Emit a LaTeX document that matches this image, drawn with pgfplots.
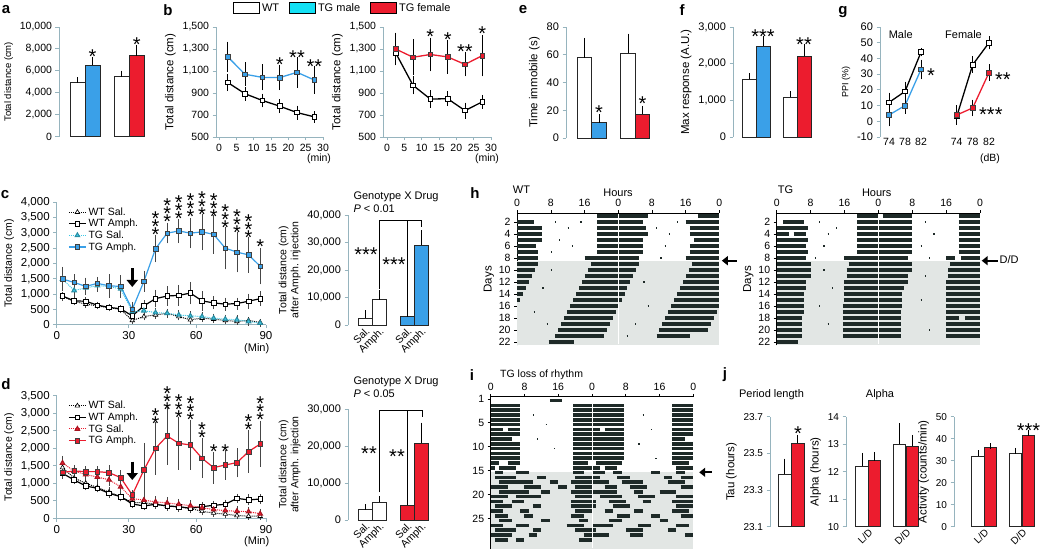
\documentclass[border=0pt]{standalone}
\usepackage{fontspec}
\setmainfont{Liberation Sans}
\usepackage{pgfplots}
\usepackage{pgfplotstable}
\pgfplotsset{compat=1.18}
\usetikzlibrary{arrows.meta}
\definecolor{axc}{RGB}{150,180,190}
\definecolor{tgblue}{RGB}{58,160,232}
\definecolor{tgred}{RGB}{236,28,46}
\definecolor{tgcyan}{RGB}{20,225,245}
\definecolor{tgsal}{RGB}{60,200,230}
\definecolor{actc}{RGB}{30,42,40}
\definecolor{shade}{RGB}{226,230,228}
\definecolor{errc}{RGB}{70,70,70}

\tikzset{starn/.style={font=\fontsize{20}{20}\selectfont, inner sep=0pt, yshift=-4.5pt}}
\pgfplotsset{
  every axis/.append style={
    scale only axis, clip=false,
    /pgf/number format/assume math mode=true,
    /pgf/number format/1000 sep={,},
    scaled ticks=false,
    tick label style={font=\fontsize{11}{13}\selectfont},
    label style={font=\fontsize{11.5}{13}\selectfont},
  },
  yleft/.style={axis y line*=left, y axis line style={axc, line width=0.9pt},
    ytick style={axc, line width=0.9pt}, ytick align=outside, major tick length=3.5pt},
  barax/.style={yleft, axis x line=none},
  barax2/.style={yleft, axis x line*=bottom, x axis line style={draw=none}, xtick style={draw=none}},
  lineax/.style={axis x line*=bottom, axis y line*=left, axis line style={axc, line width=0.9pt},
    tick style={axc, line width=0.9pt}, tick align=outside, major tick length=3.5pt},
  bb/.style={ybar, bar width=#1, bar shift=0pt, draw=black!85, line width=0.9pt,
    error bars/y dir=plus, error bars/y explicit,
    error bars/error bar style={black, line width=0.8pt},
    error bars/error mark options={black, line width=0.8pt, mark size=3pt}},
  errs/.style={error bars/y dir=both, error bars/y explicit,
    error bars/error bar style={#1, line width=0.7pt, solid},
    error bars/error mark options={#1, mark size=2pt, line width=0.7pt, solid}},
  wtl/.style={black, line width=1.3pt, mark=square*, mark size=2.3pt,
    mark options={fill=white, draw=black, line width=0.8pt, solid}, errs=black},
  tgl/.style={#1, line width=1.3pt, mark=square*, mark size=2.3pt,
    mark options={fill=#1, draw=black!75, line width=0.6pt, solid}, errs=black},
  act/.style={color=actc, line width=#1, line cap=butt, mark=none},
  acto/.style={xmin=0, xmax=48, ymin=-22.5, ymax=-0.5,
    axis x line*=top, axis y line*=left, axis line style={black, line width=0.8pt},
    tick style={black, line width=0.6pt}, tick align=outside, major tick length=3pt,
    xtick={0,8,16,24,32,40,48}, xticklabels={0,8,16,0,8,16,0},
    ytick={-2,-4,...,-22}, yticklabels={2,4,6,8,10,12,14,16,18,20,22},
    tick label style={font=\fontsize{10.5}{12}\selectfont},
    ylabel={Days}, ylabel style={yshift=-2pt}, unbounded coords=jump},
}
\newcommand{\sA}[2]{\node[starn] at (axis cs:#1,#2) {*};}
\newcommand{\sB}[2]{\node[starn] at (axis cs:#1,#2) {*};\node[starn,yshift=8pt] at (axis cs:#1,#2) {*};}
\newcommand{\sC}[2]{\node[starn] at (axis cs:#1,#2) {*};\node[starn,yshift=8pt] at (axis cs:#1,#2) {*};\node[starn,yshift=16pt] at (axis cs:#1,#2) {*};}

\pgfplotstableread{
t ws wse wa wae ts tse ta tae
2.5 925 70 936 80 1490 150 1490 330
7.5 766 60 777 60 1117 150 1380 200
12.5 670 60 766 60 1202 150 1250 220
17.5 617 50 638 50 1277 130 1350 150
22.5 553 50 564 50 1245 130 1270 320
27.5 500 50 521 60 1170 130 1250 300
32.5 138 50 287 60 426 100 500 180
37.5 266 60 617 120 457 100 1415 280
42.5 319 60 851 220 394 100 2480 380
47.5 372 60 936 250 372 90 2990 270
52.5 266 60 958 280 319 90 3060 330
57.5 160 60 1032 300 287 90 2990 430
62.5 213 60 777 250 266 80 3030 530
67.5 181 60 713 150 213 80 2950 560
72.5 138 60 670 150 181 80 2500 630
77.5 106 50 691 130 160 80 2370 600
82.5 138 50 766 180 106 70 2280 520
87.5 74 50 851 180 53 60 1910 530
}\cdata

\pgfplotstableread{
t ws wse wa wae ts tse ta tae
2.5 1450 100 1285 60 1580 150 1314 130
7.5 1150 100 1095 60 1350 120 1352 100
12.5 1000 90 924 60 1250 120 1333 100
17.5 880 80 857 50 1180 120 1333 100
22.5 750 80 714 80 1100 120 1305 150
27.5 620 80 619 80 900 120 1162 150
32.5 450 80 410 60 560 100 667 80
37.5 450 80 352 60 520 100 1381 714
42.5 400 70 400 80 470 100 2000 700
47.5 350 70 352 80 440 100 2352 770
52.5 320 70 333 80 400 100 2143 700
57.5 280 70 286 80 360 100 2095 650
62.5 200 60 333 80 300 100 1714 510
67.5 150 60 371 80 250 90 1448 400
72.5 120 50 400 80 220 90 1524 360
77.5 80 50 571 80 200 90 1590 360
82.5 60 50 524 100 190 90 1905 550
87.5 60 50 552 80 130 80 2124 600
}\ddata

\begin{document}
\begin{tikzpicture}
\path[use as bounding box] (0pt,0pt) rectangle (1050pt,552pt);

% panel letters
\begin{scope}[every node/.style={font=\bfseries\fontsize{15}{15}\selectfont}]
\node at (6pt,542pt) {a};
\node at (168pt,542pt) {b};
\node at (523pt,542pt) {e};
\node at (682pt,542pt) {f};
\node at (843pt,540pt) {g};
\node at (5pt,357pt) {c};
\node at (6pt,168pt) {d};
\node at (475pt,359pt) {h};
\node at (472pt,177pt) {i};
\node at (725pt,177pt) {j};
\end{scope}

% ---------- a ----------
\begin{axis}[barax, at={(59pt,415.3pt)}, width=91pt, height=109.7pt,
  xmin=0, xmax=91, ymin=0, ymax=10000, ytick={0,2000,...,10000},
  ylabel={Total distance (cm)}, label style={font=\fontsize{9.5}{11}\selectfont},
  tick label style={font=\fontsize{10.5}{12}\selectfont}]
\addplot[bb=15pt, fill=white] coordinates {(18.5,4950) +- (0,180)};
\addplot[bb=15pt, fill=tgblue] coordinates {(33.5,6500) +- (0,500)};
\addplot[bb=15pt, fill=white] coordinates {(62.75,5500) +- (0,250)};
\addplot[bb=15pt, fill=tgred] coordinates {(77.75,7400) +- (0,700)};
\sA{33.5}{7750}
\sA{77.75}{8815}
\end{axis}

% ---------- b left ----------
\begin{axis}[lineax, at={(216pt,415pt)}, width=107pt, height=110pt,
  xmin=-0.9, xmax=30, ymin=500, ymax=1500, xtick={0,5,...,30}, ytick={500,700,...,1500},
  ylabel={Total distance (cm)}, tick label style={font=\fontsize{10.5}{12}\selectfont},
  legend columns=3,
  legend style={draw=none, fill=none, at={(0.13,1.25)}, anchor=north west,
    font=\fontsize{11}{12}\selectfont, /tikz/every even column/.append style={column sep=8pt}}]
\addlegendimage{legend image code/.code={\draw[fill=white, draw=black, line width=0.9pt] (0pt,-5pt) rectangle (26pt,6pt);}}
\addlegendimage{legend image code/.code={\draw[fill=tgcyan, draw=black, line width=0.9pt] (0pt,-5pt) rectangle (26pt,6pt);}}
\addlegendimage{legend image code/.code={\draw[fill=tgred, draw=black, line width=0.9pt] (0pt,-5pt) rectangle (26pt,6pt);}}
\addplot[wtl] coordinates {(2.5,995) +- (0,60) (7.5,893) +- (0,45) (12.5,832) +- (0,45) (17.5,780) +- (0,45) (22.5,722) +- (0,45) (27.5,683) +- (0,35)};
\addplot[tgl=tgblue] coordinates {(2.5,1228) +- (0,120) (7.5,1070) +- (0,90) (12.5,1042) +- (0,100) (17.5,1040) +- (0,95) (22.5,1088) +- (0,120) (27.5,1018) +- (0,105)};
\legend{WT,TG male,TG female}
\sA{17.5}{1200}
\node[starn] at (axis cs:22.5,1263) {**};
\node[starn] at (axis cs:27.5,1185) {**};
\end{axis}
\node[font=\fontsize{10.5}{12}\selectfont] at (319pt,393.7pt) {(min)};

% ---------- b right ----------
\begin{axis}[lineax, at={(383pt,415pt)}, width=108pt, height=110pt,
  xmin=-1.15, xmax=30, ymin=500, ymax=1500, xtick={0,5,...,30}, ytick={500,700,...,1500},
  ylabel={Total distance (cm)}, tick label style={font=\fontsize{10.5}{12}\selectfont}]
\addplot[wtl] coordinates {(2.5,1265) +- (0,90) (7.5,970) +- (0,65) (12.5,845) +- (0,60) (17.5,848) +- (0,50) (22.5,740) +- (0,55) (27.5,820) +- (0,45)};
\addplot[tgl=tgred] coordinates {(2.5,1300) +- (0,130) (7.5,1225) +- (0,145) (12.5,1250) +- (0,135) (17.5,1228) +- (0,135) (22.5,1160) +- (0,90) (27.5,1240) +- (0,170)};
\sA{12.5}{1457}
\sA{17.5}{1427}
\node[starn] at (axis cs:22.5,1321) {**};
\sA{27.5}{1479}
\end{axis}
\node[font=\fontsize{10.5}{12}\selectfont] at (487pt,393.7pt) {(min)};

% ---------- e ----------
\begin{axis}[barax, at={(566pt,414pt)}, width=89pt, height=111pt,
  xmin=0, xmax=89, ymin=0, ymax=80, ytick={0,20,...,80},
  ylabel={Time immobile (s)}]
\addplot[bb=14.5pt, fill=white] coordinates {(18.5,58) +- (0,12)};
\addplot[bb=14.5pt, fill=tgblue] coordinates {(33,11) +- (0,4)};
\addplot[bb=14.5pt, fill=white] coordinates {(62,61) +- (0,12)};
\addplot[bb=14.5pt, fill=tgred] coordinates {(76.5,17) +- (0,4)};
\sA{33}{21.6}
\sA{76.5}{27.9}
\end{axis}

% ---------- f ----------
\begin{axis}[barax, at={(733pt,415pt)}, width=82pt, height=110pt,
  xmin=0, xmax=82, ymin=0, ymax=3000, ytick={0,1000,...,3000},
  ylabel={Max response (A.U.)}]
\addplot[bb=14pt, fill=white] coordinates {(16,1570) +- (0,80)};
\addplot[bb=14pt, fill=tgblue] coordinates {(30,2480) +- (0,180)};
\addplot[bb=14pt, fill=white] coordinates {(57,1090) +- (0,70)};
\addplot[bb=14pt, fill=tgred] coordinates {(71,2200) +- (0,260)};
\node[starn] at (axis cs:30,2872) {***};
\node[starn] at (axis cs:71,2645) {**};
\end{axis}

% ---------- g ----------
\begin{axis}[barax2, at={(880pt,415pt)}, width=120pt, height=110pt,
  xmin=0, xmax=120, ymin=-10, ymax=60, ytick={-10,0,...,60},
  xtick={9,25,41,76.7,92.7,109}, xticklabels={74,78,82,74,78,82},
  xticklabel style={font=\fontsize{10.5}{12}\selectfont, inner sep=1pt},
  ylabel={PPI (\%)}, ylabel style={font=\fontsize{9}{11}\selectfont}]
\addplot[wtl] coordinates {(9,12) +- (0,5) (25,19) +- (0,5) (41,44) +- (0,1.5)};
\addplot[tgl=tgblue] coordinates {(9,4) +- (0,6) (25,10) +- (0,4) (41,33) +- (0,5)};
\addplot[wtl] coordinates {(76.7,3) +- (0,4) (92.7,36) +- (0,4) (109,50) +- (0,3)};
\addplot[tgl=tgred] coordinates {(76.7,4) +- (0,5) (92.7,8.5) +- (0,4) (109,31) +- (0,4)};
\node[starn, anchor=west] at (axis cs:47,32.2) {*};
\node[starn, anchor=west] at (axis cs:115,29.5) {**};
\node[starn, anchor=west] at (axis cs:99,7.2) {***};
\end{axis}
\node[font=\fontsize{11}{13}\selectfont] at (900.7pt,517pt) {Male};
\node[font=\fontsize{11}{13}\selectfont] at (963.5pt,517pt) {Female};
\node[font=\fontsize{10.5}{12}\selectfont] at (990pt,393.7pt) {(dB)};

% ---------- c line ----------
\begin{axis}[lineax, at={(56.7pt,227.3pt)}, width=209.3pt, height=122.5pt,
  xmin=0, xmax=90, ymin=0, ymax=4000, ytick={0,500,...,4000},
  xtick={0,31,60,90}, xticklabels={0,30,60,90},
  tick label style={font=\fontsize{11.5}{13}\selectfont},
  ylabel={Total distance (cm)}, label style={font=\fontsize{10.5}{12}\selectfont},
  legend cell align=left,
  legend style={draw=none, fill=none, at={(0.04,0.99)}, anchor=north west,
    font=\fontsize{10.5}{12}\selectfont, row sep=-1.5pt}]
\addplot[black, densely dotted, line width=1pt, mark=triangle*, mark size=2.6pt,
  mark options={fill=white, draw=black, solid, line width=0.6pt}, errs=errc]
  table[x=t, y=ws, y error=wse] {\cdata};
\addplot[black, line width=1.2pt, mark=square*, mark size=2.3pt,
  mark options={fill=white, draw=black, solid, line width=0.7pt}, errs=errc]
  table[x=t, y=wa, y error=wae] {\cdata};
\addplot[tgsal, densely dotted, line width=1pt, mark=triangle*, mark size=2.6pt,
  mark options={fill=tgsal, draw=tgsal!70!black, solid}, errs=errc]
  table[x=t, y=ts, y error=tse] {\cdata};
\addplot[tgblue, line width=1.2pt, mark=square*, mark size=2.3pt,
  mark options={fill=tgblue, draw=black!75, solid, line width=0.6pt}, errs=errc]
  table[x=t, y=ta, y error=tae] {\cdata};
\legend{WT Sal.,WT Amph.,TG Sal.,TG Amph.}
\draw[line width=2.6pt, -{Triangle[length=7pt, width=11pt]}] (axis cs:32.5,1851) -- (axis cs:32.5,1231);
\sC{42.5}{3092}\sC{47.5}{3507}\sC{52.5}{3614}\sC{57.5}{3690}\sC{62.5}{3745}
\sC{67.5}{3690}\sC{72.5}{3310}\sC{77.5}{3147}\sC{82.5}{2985}\sA{87.5}{2710}
\end{axis}
\node[font=\fontsize{11}{13}\selectfont] at (256.7pt,203.7pt) {(Min)};

% ---------- c bars ----------
\begin{axis}[barax2, at={(348pt,227pt)}, width=85pt, height=110pt,
  xmin=0, xmax=85, ymin=0, ymax=40000, ytick={0,10000,...,40000},
  xtick={17,31,59,73}, xticklabels={Sal.,Amph.,Sal.,Amph.},
  xticklabel style={rotate=45, anchor=north east, inner sep=1pt, font=\fontsize{10.5}{12}\selectfont},
  ylabel={Total distance (cm)\\after Amph. injection},
  ylabel style={align=center, font=\fontsize{10.5}{12}\selectfont}]
\addplot[bb=14pt, fill=white] coordinates {(17,2500) +- (0,1800)};
\addplot[bb=14pt, fill=white] coordinates {(31,9200) +- (0,2500)};
\addplot[bb=14pt, fill=tgblue] coordinates {(59,3000) +- (0,1200)};
\addplot[bb=14pt, fill=tgblue] coordinates {(73,29000) +- (0,4300)};
\addplot[black, line width=0.8pt, mark=none] coordinates {(31,13000) (31,37900) (73,37900) (73,35600)};
\addplot[black, line width=0.8pt, mark=none] coordinates {(59,5500) (59,37900)};
\node[starn] at (axis cs:18,27300) {***};
\node[starn] at (axis cs:46,23600) {***};
\end{axis}
\node[anchor=west, font=\fontsize{11}{13}\selectfont] at (350pt,355pt) {Genotype X Drug};
\node[anchor=west, font=\fontsize{11}{13}\selectfont] at (350pt,343pt) {\textit{P} < 0.01};

% ---------- d line ----------
\begin{axis}[lineax, at={(56.7pt,33.7pt)}, width=209.3pt, height=122.5pt,
  xmin=0, xmax=90, ymin=0, ymax=3500, ytick={0,500,...,3500},
  xtick={0,31,60,90}, xticklabels={0,30,60,90},
  tick label style={font=\fontsize{11.5}{13}\selectfont},
  ylabel={Total distance (cm)}, label style={font=\fontsize{10.5}{12}\selectfont},
  legend cell align=left,
  legend style={draw=none, fill=none, at={(0.04,0.99)}, anchor=north west,
    font=\fontsize{10.5}{12}\selectfont, row sep=-1.5pt}]
\addplot[black, densely dotted, line width=1pt, mark=triangle*, mark size=2.6pt,
  mark options={fill=white, draw=black, solid, line width=0.6pt}, errs=errc]
  table[x=t, y=ws, y error=wse] {\ddata};
\addplot[black, line width=1.2pt, mark=square*, mark size=2.3pt,
  mark options={fill=white, draw=black, solid, line width=0.7pt}, errs=errc]
  table[x=t, y=wa, y error=wae] {\ddata};
\addplot[tgred, densely dotted, line width=1pt, mark=triangle*, mark size=2.6pt,
  mark options={fill=tgred, draw=tgred!70!black, solid}, errs=errc]
  table[x=t, y=ts, y error=tse] {\ddata};
\addplot[tgred, line width=1.2pt, mark=square*, mark size=2.3pt,
  mark options={fill=tgred, draw=black!75, solid, line width=0.6pt}, errs=errc]
  table[x=t, y=ta, y error=tae] {\ddata};
\legend{WT Sal.,WT Amph.,TG Sal.,TG Amph.}
\draw[line width=2.6pt, -{Triangle[length=7pt, width=11pt]}] (axis cs:32.5,1617) -- (axis cs:32.5,1094);
\sB{42.5}{2829}\sC{47.5}{3238}\sC{52.5}{3000}\sC{57.5}{2952}\sB{62.5}{2428}
\sA{67.5}{2048}\sA{72.5}{2048}\sB{82.5}{2667}\sC{87.5}{2952}
\end{axis}
\node[font=\fontsize{11}{13}\selectfont] at (256.7pt,10.1pt) {(Min)};

% ---------- d bars ----------
\begin{axis}[barax2, at={(348pt,32pt)}, width=85pt, height=111pt,
  xmin=0, xmax=85, ymin=0, ymax=30000, ytick={0,10000,...,30000},
  xtick={17,31,59,73}, xticklabels={Sal.,Amph.,Sal.,Amph.},
  xticklabel style={rotate=45, anchor=north east, inner sep=1pt, font=\fontsize{10.5}{12}\selectfont},
  ylabel={Total distance (cm)\\after Amph. injection},
  ylabel style={align=center, font=\fontsize{10.5}{12}\selectfont}]
\addplot[bb=14pt, fill=white] coordinates {(17,2800) +- (0,600)};
\addplot[bb=14pt, fill=white] coordinates {(31,4800) +- (0,900)};
\addplot[bb=14pt, fill=tgred] coordinates {(59,4000) +- (0,1200)};
\addplot[bb=14pt, fill=tgred] coordinates {(73,20700) +- (0,4800)};
\addplot[black, line width=0.8pt, mark=none] coordinates {(31,7500) (31,29500) (74,29500) (74,27800)};
\addplot[black, line width=0.8pt, mark=none] coordinates {(59,6000) (59,29500)};
\node[starn] at (axis cs:21,19200) {**};
\node[starn] at (axis cs:49,18400) {**};
\end{axis}
\node[anchor=west, font=\fontsize{11}{13}\selectfont] at (350pt,170pt) {Genotype X Drug};
\node[anchor=west, font=\fontsize{11}{13}\selectfont] at (350pt,158pt) {\textit{P} < 0.05};

% ---------- h WT actogram ----------
\begin{axis}[acto, at={(517.1pt,206.7pt)}, width=202.2pt, height=132pt]
\addplot[fill=shade, draw=none, mark=none] coordinates {(0,-8.4) (48,-8.4) (48,-22.5) (0,-22.5)};
\addplot[act=4.2pt] coordinates {
(19,-1)(31,-1)(nan,0)(43,-1)(48,-1)(nan,0)
(0,-2)(4,-2)(nan,0)(19,-2)(30,-2)(nan,0)(40,-2)(48,-2)(nan,0)
(0,-3)(6,-3)(nan,0)(19,-3)(30.5,-3)(nan,0)(41,-3)(48,-3)(nan,0)
(0,-4)(6,-4)(nan,0)(19,-4)(31,-4)(nan,0)(41,-4)(48,-4)(nan,0)
(0,-5)(6,-5)(nan,0)(19,-5)(30,-5)(nan,0)(42,-5)(48,-5)(nan,0)
(0,-6)(4.5,-6)(nan,0)(19,-6)(30,-6)(nan,0)(41,-6)(48,-6)(nan,0)
(0,-7)(5,-7)(nan,0)(19,-7)(30,-7)(nan,0)(41,-7)(48,-7)(nan,0)
(0,-8)(5,-8)(nan,0)(16,-8)(29,-8)(nan,0)(40,-8)(48,-8)(nan,0)
(0,-9)(5,-9)(nan,0)(17.5,-9)(29,-9)(nan,0)(41.5,-9)(48,-9)(nan,0)
(0,-10)(4.3,-10)(nan,0)(16.8,-10)(28.3,-10)(nan,0)(40.8,-10)(48,-10)(nan,0)
(0,-11)(3.6,-11)(nan,0)(16.1,-11)(27.6,-11)(nan,0)(40.1,-11)(48,-11)(nan,0)
(0,-12)(2.9,-12)(nan,0)(15.4,-12)(26.9,-12)(nan,0)(39.4,-12)(48,-12)(nan,0)
(0,-13)(2.2,-13)(nan,0)(14.7,-13)(26.2,-13)(nan,0)(38.7,-13)(48,-13)(nan,0)
(0,-14)(1.5,-14)(nan,0)(14,-14)(25.5,-14)(nan,0)(38,-14)(48,-14)(nan,0)
(0,-15)(0.8,-15)(nan,0)(13.3,-15)(24.8,-15)(nan,0)(37.3,-15)(48,-15)(nan,0)
(12.6,-16)(24.1,-16)(nan,0)(36.6,-16)(48,-16)(nan,0)
(11.9,-17)(23.4,-17)(nan,0)(35.9,-17)(47.4,-17)(nan,0)
(11.2,-18)(22.7,-18)(nan,0)(35.2,-18)(46.7,-18)(nan,0)
(10.5,-19)(22,-19)(nan,0)(34.5,-19)(46,-19)(nan,0)
(9.8,-20)(21.3,-20)(nan,0)(33.8,-20)(45.3,-20)(nan,0)
(9.1,-21)(20.6,-21)(nan,0)(33.1,-21)(41,-21)(nan,0)
(7.5,-22)(13.5,-22)
};
\addplot[actc, line width=1.6pt, line cap=butt, mark=none] coordinates {
(9,-2)(9.3,-2)(nan,0)(12,-3)(12.3,-3)(nan,0)(15,-2)(15.3,-2)(nan,0)(10,-5)(10.3,-5)(nan,0)
(13,-6)(13.3,-6)(nan,0)(8,-7)(8.3,-7)(nan,0)(33,-3)(33.3,-3)(nan,0)(36,-4)(36.3,-4)(nan,0)
(38,-2)(38.3,-2)(nan,0)(35,-6)(35.3,-6)(nan,0)(34,-8)(34.3,-8)(nan,0)(8,-10)(8.3,-10)(nan,0)
(6,-13)(6.3,-13)(nan,0)(4,-17)(4.3,-17)(nan,0)(7,-19)(7.3,-19)(nan,0)(30,-12)(30.3,-12)(nan,0)
(31,-16)(31.3,-16)(nan,0)(28,-19)(28.3,-19)(nan,0)(26,-21)(26.3,-21)
};
\addplot[white, line width=0.6pt, mark=none] coordinates {(24,-0.7)(24,-22.3)};
\draw[line width=1.8pt, -{Triangle[length=6pt, width=9pt]}] (axis cs:52.1,-8.4) -- (axis cs:48.6,-8.4);
\end{axis}
\node[font=\fontsize{11}{13}\selectfont] at (521.5pt,362.7pt) {WT};
\node[font=\fontsize{11}{13}\selectfont] at (618pt,359.3pt) {Hours};

% ---------- h TG actogram ----------
\begin{axis}[acto, at={(776.7pt,206.7pt)}, width=203.3pt, height=132pt]
\addplot[fill=shade, draw=none, mark=none] coordinates {(0,-8.4) (48,-8.4) (48,-22.5) (0,-22.5)};
\addplot[act=4.2pt] coordinates {
(19,-1)(24,-1)(nan,0)(25,-1)(32,-1)(nan,0)(43,-1)(48,-1)(nan,0)
(1.5,-2)(6.5,-2)(nan,0)(19,-2)(32,-2)(nan,0)(43,-2)(48,-2)(nan,0)
(0,-3)(7.5,-3)(nan,0)(19,-3)(32,-3)(nan,0)(43,-3)(48,-3)(nan,0)
(0,-4)(3,-4)(nan,0)(4,-4)(7,-4)(nan,0)(19,-4)(32,-4)(nan,0)(43,-4)(48,-4)(nan,0)
(0,-5)(7.5,-5)(nan,0)(19,-5)(32,-5)(nan,0)(43,-5)(48,-5)(nan,0)
(0,-6)(7,-6)(nan,0)(19,-6)(32,-6)(nan,0)(43,-6)(48,-6)(nan,0)
(0,-7)(7.5,-7)(nan,0)(19,-7)(32,-7)(nan,0)(43,-7)(48,-7)(nan,0)
(0,-8)(7,-8)(nan,0)(16,-8)(31,-8)(nan,0)(40,-8)(42,-8)(nan,0)(43.5,-8)(48,-8)(nan,0)
(0,-9)(8,-9)(nan,0)(17,-9)(32,-9)(nan,0)(41,-9)(48,-9)(nan,0)
(0,-10)(8,-10)(nan,0)(16.5,-10)(32,-10)(nan,0)(40.5,-10)(48,-10)(nan,0)
(0,-11)(8,-11)(nan,0)(16.5,-11)(31,-11)(nan,0)(40.5,-11)(48,-11)(nan,0)
(0,-12)(7,-12)(nan,0)(16,-12)(31,-12)(nan,0)(40,-12)(48,-12)(nan,0)
(0,-13)(7,-13)(nan,0)(16,-13)(30,-13)(nan,0)(40,-13)(48,-13)(nan,0)
(0,-14)(6.5,-14)(nan,0)(15.8,-14)(29.5,-14)(nan,0)(40,-14)(48,-14)(nan,0)
(0,-15)(6.5,-15)(nan,0)(15.8,-15)(29.5,-15)(nan,0)(40,-15)(48,-15)(nan,0)
(0,-16)(6.5,-16)(nan,0)(15.6,-16)(29.5,-16)(nan,0)(40,-16)(48,-16)(nan,0)
(0,-17)(6.5,-17)(nan,0)(15.6,-17)(29.3,-17)(nan,0)(40,-17)(48,-17)(nan,0)
(0,-18)(6,-18)(nan,0)(15.6,-18)(29.3,-18)(nan,0)(40,-18)(43,-18)(nan,0)(44.5,-18)(48,-18)(nan,0)
(0,-19)(6,-19)(nan,0)(15.6,-19)(29.3,-19)(nan,0)(40,-19)(48,-19)(nan,0)
(0,-20)(6,-20)(nan,0)(15.6,-20)(29.3,-20)(nan,0)(40,-20)(48,-20)(nan,0)
(0,-21)(6,-21)(nan,0)(15.6,-21)(29.3,-21)(nan,0)(40,-21)(48,-21)(nan,0)
(0,-22)(5,-22)
};
\addplot[actc, line width=1.6pt, line cap=butt, mark=none] coordinates {
(10,-2)(10.3,-2)(nan,0)(12,-4)(12.3,-4)(nan,0)(14,-3)(14.3,-3)(nan,0)(11,-6)(11.3,-6)(nan,0)
(9,-8)(9.3,-8)(nan,0)(35,-2)(35.3,-2)(nan,0)(37,-4)(37.3,-4)(nan,0)(34,-6)(34.3,-6)(nan,0)
(36,-8)(36.3,-8)(nan,0)(11,-10)(11.3,-10)(nan,0)(13,-13)(13.3,-13)(nan,0)(35,-11)(35.3,-11)(nan,0)
(10,-16)(10.3,-16)(nan,0)(12,-19)(12.3,-19)(nan,0)(34,-15)(34.3,-15)(nan,0)(36,-20)(36.3,-20)
};
\addplot[white, line width=0.6pt, mark=none] coordinates {(24,-0.7)(24,-22.3)};
\draw[line width=1.8pt, -{Triangle[length=6pt, width=9pt]}] (axis cs:52.2,-8.4) -- (axis cs:48.4,-8.4);
\end{axis}
\node[font=\fontsize{11}{13}\selectfont] at (785.5pt,362.7pt) {TG};
\node[font=\fontsize{11}{13}\selectfont] at (876.7pt,359.3pt) {Hours};
\node[anchor=west, font=\fontsize{11}{13}\selectfont, inner sep=1pt] at (998.5pt,292.7pt) {D/D};

% ---------- i actogram ----------
\begin{axis}[at={(490.7pt,3pt)}, width=202.6pt, height=152.2pt,
  xmin=0, xmax=48, ymin=-31.3, ymax=0.4,
  axis x line*=top, axis y line*=left, axis line style={black, line width=0.8pt},
  tick style={black, line width=0.6pt}, tick align=outside, major tick length=3pt,
  xtick={0,8,16,24,32,40,48}, xticklabels={0,8,16,0,8,16,0},
  ytick={-0.125,-5,-10,-15,-20,-25}, yticklabels={1,5,10,15,20,25},
  tick label style={font=\fontsize{10.5}{12}\selectfont}, unbounded coords=jump]
\addplot[fill=shade, draw=none, mark=none] coordinates {(0,-15.33) (48,-15.33) (48,-31.3) (0,-31.3)};
\addplot[act=3.6pt] coordinates {
(14,-0.4)(17,-0.4)(nan,0)
(0,-1.4)(7,-1.4)(nan,0)(19.5,-1.4)(31.5,-1.4)(nan,0)(43,-1.4)(48,-1.4)(nan,0)
(0,-2.4)(7,-2.4)(nan,0)(19.5,-2.4)(31.5,-2.4)(nan,0)(43,-2.4)(48,-2.4)(nan,0)
(0,-3.4)(7,-3.4)(nan,0)(19.5,-3.4)(31.5,-3.4)(nan,0)(43,-3.4)(48,-3.4)(nan,0)
(0,-4.4)(7,-4.4)(nan,0)(19.5,-4.4)(31.5,-4.4)(nan,0)(43,-4.4)(48,-4.4)(nan,0)
(0,-5.4)(7,-5.4)(nan,0)(19.5,-5.4)(31.5,-5.4)(nan,0)(43,-5.4)(48,-5.4)(nan,0)
(0,-6.4)(3,-6.4)(nan,0)(4,-6.4)(7,-6.4)(nan,0)(19.5,-6.4)(26,-6.4)(nan,0)(27,-6.4)(31.5,-6.4)(nan,0)(43,-6.4)(48,-6.4)(nan,0)
(0,-7.4)(7,-7.4)(nan,0)(19.5,-7.4)(31.5,-7.4)(nan,0)(43,-7.4)(48,-7.4)(nan,0)
(0,-8.4)(5,-8.4)(nan,0)(19.5,-8.4)(31.5,-8.4)(nan,0)(43,-8.4)(46,-8.4)(nan,0)
(0,-9.4)(7,-9.4)(nan,0)(19.5,-9.4)(31.5,-9.4)(nan,0)(43,-9.4)(48,-9.4)(nan,0)
(0,-10.4)(7,-10.4)(nan,0)(19.5,-10.4)(31.5,-10.4)(nan,0)(43,-10.4)(48,-10.4)(nan,0)
(0,-11.4)(7,-11.4)(nan,0)(19.5,-11.4)(31.5,-11.4)(nan,0)(43,-11.4)(48,-11.4)(nan,0)
(0,-12.4)(7,-12.4)(nan,0)(19.5,-12.4)(31.5,-12.4)(nan,0)(43,-12.4)(48,-12.4)(nan,0)
(0,-13.4)(2,-13.4)(nan,0)(4,-13.4)(7,-13.4)(nan,0)(19.5,-13.4)(23,-13.4)(nan,0)(25,-13.4)(31,-13.4)(nan,0)(43,-13.4)(47,-13.4)(nan,0)
(0,-14.4)(1,-14.4)(nan,0)(2,-14.4)(6,-14.4)(nan,0)(19.5,-14.4)(26,-14.4)(nan,0)(27,-14.4)(30,-14.4)(nan,0)(44,-14.4)(48,-14.4)(nan,0)
(1,-15.4)(3,-15.4)(nan,0)(6,-15.4)(9,-15.4)(nan,0)(19.5,-15.4)(22,-15.4)(nan,0)(24,-15.4)(27,-15.4)(nan,0)(29,-15.4)(31,-15.4)(nan,0)(38,-15.4)(40,-15.4)(nan,0)(44,-15.4)(46,-15.4)(nan,0)
(1,-16.4)(6,-16.4)(nan,0)(11,-16.4)(13,-16.4)(nan,0)(20,-16.4)(26,-16.4)(nan,0)(30,-16.4)(33,-16.4)(nan,0)(41,-16.4)(43,-16.4)(nan,0)(45,-16.4)(48,-16.4)(nan,0)
(2,-17.4)(10,-17.4)(nan,0)(14,-17.4)(16,-17.4)(nan,0)(19,-17.4)(28,-17.4)(nan,0)(31,-17.4)(36,-17.4)(nan,0)(42,-17.4)(46,-17.4)(nan,0)
(0,-18.4)(4,-18.4)(nan,0)(8,-18.4)(12,-18.4)(nan,0)(16,-18.4)(18,-18.4)(nan,0)(20,-18.4)(24,-18.4)(nan,0)(27,-18.4)(30,-18.4)(nan,0)(33,-18.4)(37,-18.4)(nan,0)(45,-18.4)(48,-18.4)(nan,0)
(2,-19.4)(9,-19.4)(nan,0)(12,-19.4)(14,-19.4)(nan,0)(19,-19.4)(30,-19.4)(nan,0)(34,-19.4)(36,-19.4)(nan,0)(40,-19.4)(44,-19.4)(nan,0)
(0,-20.4)(4,-20.4)(nan,0)(6,-20.4)(12,-20.4)(nan,0)(20,-20.4)(24,-20.4)(nan,0)(26,-20.4)(31,-20.4)(nan,0)(35,-20.4)(39,-20.4)(nan,0)(44,-20.4)(48,-20.4)(nan,0)
(0,-21.4)(3,-21.4)(nan,0)(5,-21.4)(8,-21.4)(nan,0)(19,-21.4)(25,-21.4)(nan,0)(28,-21.4)(32,-21.4)(nan,0)(36,-21.4)(38,-21.4)(nan,0)(43,-21.4)(48,-21.4)(nan,0)
(1,-22.4)(5,-22.4)(nan,0)(10,-22.4)(12,-22.4)(nan,0)(19,-22.4)(25,-22.4)(nan,0)(29,-22.4)(33,-22.4)(nan,0)(44,-22.4)(48,-22.4)(nan,0)
(0,-23.4)(3,-23.4)(nan,0)(7,-23.4)(9,-23.4)(nan,0)(20,-23.4)(24,-23.4)(nan,0)(27,-23.4)(29,-23.4)(nan,0)(34,-23.4)(36,-23.4)(nan,0)(43,-23.4)(47,-23.4)(nan,0)
(1,-24.4)(4,-24.4)(nan,0)(8,-24.4)(10,-24.4)(nan,0)(19,-24.4)(22,-24.4)(nan,0)(30,-24.4)(33,-24.4)(nan,0)(38,-24.4)(40,-24.4)(nan,0)(45,-24.4)(48,-24.4)(nan,0)
(2,-25.4)(5,-25.4)(nan,0)(12,-25.4)(14,-25.4)(nan,0)(21,-25.4)(23,-25.4)(nan,0)(28,-25.4)(31,-25.4)(nan,0)(40,-25.4)(42,-25.4)(nan,0)
(0,-26.4)(3,-26.4)(nan,0)(6,-26.4)(9,-26.4)(nan,0)(18,-26.4)(22,-26.4)(nan,0)(24,-26.4)(29,-26.4)(nan,0)(35,-26.4)(38,-26.4)(nan,0)(44,-26.4)(47,-26.4)(nan,0)
(1,-27.4)(6,-27.4)(nan,0)(10,-27.4)(12,-27.4)(nan,0)(20,-27.4)(25,-27.4)(nan,0)(32,-27.4)(36,-27.4)(nan,0)(42,-27.4)(44,-27.4)(nan,0)
(0,-28.4)(5,-28.4)(nan,0)(9,-28.4)(11,-28.4)(nan,0)(22,-28.4)(28,-28.4)(nan,0)(33,-28.4)(36,-28.4)(nan,0)(46,-28.4)(48,-28.4)(nan,0)
(1,-29.4)(4,-29.4)(nan,0)(6,-29.4)(8,-29.4)(nan,0)(21,-29.4)(24,-29.4)
};
\addplot[actc, line width=1.4pt, line cap=butt, mark=none] coordinates {
(10,-3.4)(10.3,-3.4)(nan,0)(13,-5.4)(13.3,-5.4)(nan,0)(11,-8.4)(11.3,-8.4)(nan,0)(15,-10.4)(15.3,-10.4)(nan,0)
(36,-3.4)(36.3,-3.4)(nan,0)(38,-6.4)(38.3,-6.4)(nan,0)(35,-9.4)(35.3,-9.4)(nan,0)(39,-12.4)(39.3,-12.4)
};
\addplot[white, line width=0.6pt, mark=none] coordinates {(24,0.2)(24,-31)};
\draw[line width=1.8pt, -{Triangle[length=6pt, width=9pt]}] (axis cs:52.4,-15.33) -- (axis cs:49.4,-15.33);
\end{axis}
\node[anchor=west, font=\fontsize{10.5}{12}\selectfont] at (496.7pt,177pt) {TG loss of rhythm};

% ---------- j Tau ----------
\begin{axis}[barax, at={(770pt,25.3pt)}, width=40pt, height=110pt,
  xmin=0, xmax=40, ymin=23.1, ymax=23.7, ytick={23.1,23.3,23.5,23.7},
  yticklabel style={/pgf/number format/.cd, fixed, fixed zerofill, precision=1},
  tick label style={font=\fontsize{10}{12}\selectfont},
  clip=true, clip mode=individual,
  ylabel={Tau (hours)}]
\addplot[bb=13pt, fill=white] coordinates {(14.5,23.385) +- (0,0.07)};
\addplot[bb=13pt, fill=tgred] coordinates {(27.5,23.555) +- (0,0.03)};
\sA{28}{23.63}
\end{axis}
\node[font=\fontsize{11}{13}\selectfont] at (771.5pt,157pt) {Period length};

% ---------- j Alpha ----------
\begin{axis}[barax2, at={(846pt,25.3pt)}, width=80pt, height=110pt,
  xmin=0, xmax=80, ymin=10, ymax=14, ytick={10,11,...,14},
  xtick={22,60}, xticklabels={L/D,D/D},
  xticklabel style={rotate=45, anchor=north east, inner sep=1pt},
  tick label style={font=\fontsize{10}{12}\selectfont},
  clip=true, clip mode=individual,
  ylabel={Alpha (hours)}]
\addplot[bb=12.5pt, fill=white] coordinates {(16,12.2) +- (0,0.38)};
\addplot[bb=12.5pt, fill=tgred] coordinates {(28.5,12.4) +- (0,0.2)};
\addplot[bb=12.5pt, fill=white] coordinates {(53.5,13.0) +- (0,0.65)};
\addplot[bb=12.5pt, fill=tgred] coordinates {(66.5,12.93) +- (0,0.3)};
\end{axis}
\node[font=\fontsize{11}{13}\selectfont] at (880pt,157pt) {Alpha};

% ---------- j Activity ----------
\begin{axis}[barax2, at={(954pt,25.3pt)}, width=85pt, height=110pt,
  xmin=0, xmax=85, ymin=0, ymax=50, ytick={0,10,...,50},
  xtick={30,68}, xticklabels={L/D,D/D},
  xticklabel style={rotate=45, anchor=north east, inner sep=1pt},
  tick label style={font=\fontsize{10}{12}\selectfont},
  ylabel={Activity (counts/min)}]
\addplot[bb=12.5pt, fill=white] coordinates {(24,32) +- (0,1.5)};
\addplot[bb=12.5pt, fill=tgred] coordinates {(36.5,35.8) +- (0,0.7)};
\addplot[bb=12.5pt, fill=white] coordinates {(61.5,33.2) +- (0,1.3)};
\addplot[bb=12.5pt, fill=tgred] coordinates {(74.5,41.5) +- (0,1)};
\node[starn] at (axis cs:74.5,45.8) {***};
\end{axis}

\end{tikzpicture}
\end{document}
